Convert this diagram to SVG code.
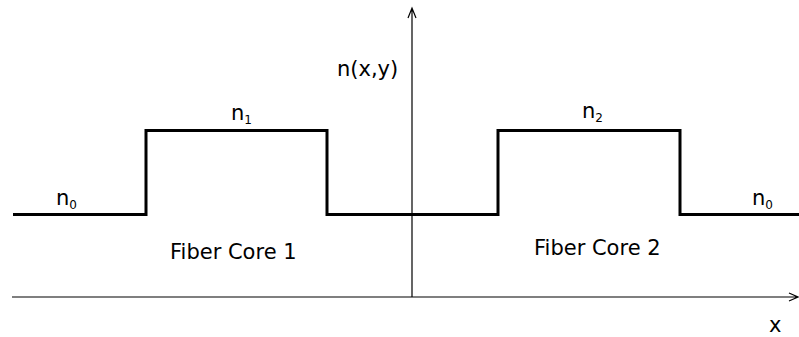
<svg xmlns="http://www.w3.org/2000/svg" width="799" height="337" viewBox="0 0 799 337">
<style>
.lbl{font-family:"DejaVu Sans","Liberation Sans",sans-serif;font-size:21px;fill:#000}
.sub{font-size:12px}
.axis{stroke:#000;stroke-width:1.2;fill:none}
.prof{stroke:#000;stroke-width:3;fill:none;stroke-linejoin:miter}
</style>
<rect width="799" height="337" fill="#fff"/>
<g id="connectors">
<path class="axis" d="M12 297 H798 M789 293 L798 297 L789 301"/>
<path class="axis" d="M412 297 V8 M408 18 L412 8 L416 18"/>
</g>
<g id="profile">
<path class="prof" d="M13 214.5 H146 V130.5 H327 V214.5 H498 V130.5 H680 V214.5 H799"/>
</g>
<g id="labels">
<text class="lbl" x="337" y="76">n(x,y)</text>
<text class="lbl" x="231" y="120">n<tspan class="sub" dy="4">1</tspan></text>
<text class="lbl" x="582" y="118">n<tspan class="sub" dy="4">2</tspan></text>
<text class="lbl" x="56" y="205">n<tspan class="sub" dy="4">0</tspan></text>
<text class="lbl" x="752" y="205">n<tspan class="sub" dy="4">0</tspan></text>
<text class="lbl" x="170" y="259">Fiber Core 1</text>
<text class="lbl" x="534" y="255">Fiber Core 2</text>
<text class="lbl" x="769" y="332">x</text>
</g>
</svg>
